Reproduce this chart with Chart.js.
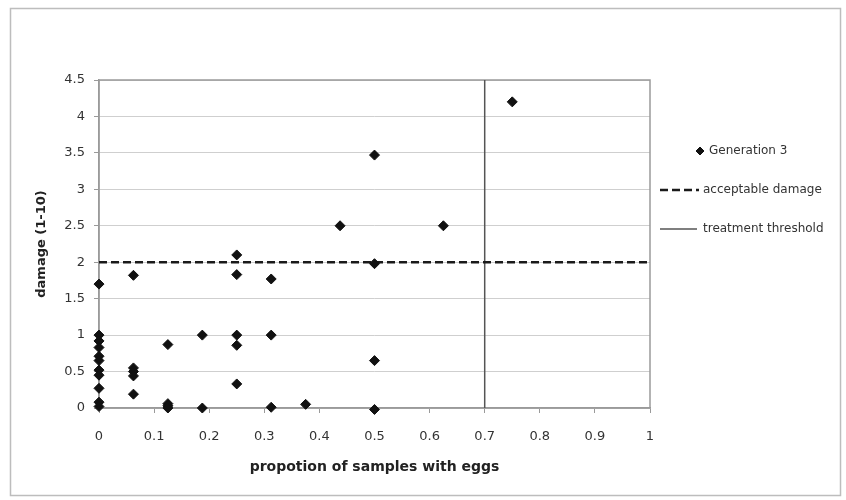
<!DOCTYPE html>
<html>
<head>
<meta charset="utf-8">
<script src="https://cdn.jsdelivr.net/npm/chart.js@4"></script>
<style>
  body { margin: 0; background: #fff; }
  #wrap { width: 846px; height: 500px; }
</style>
</head>
<body>
<div id="wrap"><canvas id="damageChart" width="846" height="500"></canvas></div>
<script>
// proportion of samples with eggs / damage score, generation 3
var genX = [0, 0, 0, 0, 0, 0, 0, 0, 0, 0, 0,
            0.0625, 0.0625, 0.0625, 0.0625, 0.0625,
            0.125, 0.125, 0.125, 0.125,
            0.1875, 0.1875,
            0.25, 0.25, 0.25, 0.25, 0.25,
            0.3125, 0.3125, 0.3125,
            0.375, 0.4375,
            0.5, 0.5, 0.5, 0.5,
            0.625, 0.75];
var genY = [1.0, 0.92, 0.83, 0.71, 0.65, 0.52, 0.45, 0.27, 0.08, 0.02, 1.7,
            1.82, 0.55, 0.5, 0.44, 0.19,
            0.87, 0.06, 0.03, 0.0,
            1.0, 0.0,
            2.1, 1.83, 1.0, 0.86, 0.33,
            1.77, 1.0, 0.01,
            0.05, 2.5,
            3.47, 1.98, 0.65, -0.02,
            2.5, 4.2];

var acceptableDamage = 2;
var treatmentThreshold = 0.7;

var xTicks = [0, 0.1, 0.2, 0.3, 0.4, 0.5, 0.6, 0.7, 0.8, 0.9, 1];
var xTickLabels = ['0', '0.1', '0.2', '0.3', '0.4', '0.5', '0.6', '0.7', '0.8', '0.9', '1'];
var yTicks = [0, 0.5, 1, 1.5, 2, 2.5, 3, 3.5, 4, 4.5];
var yTickLabels = ['0', '0.5', '1', '1.5', '2', '2.5', '3', '3.5', '4', '4.5'];

var legendNames = ['Generation 3', 'acceptable damage', 'treatment threshold'];

var FONT = '"DejaVu Sans", sans-serif';

// outer border + plot frame
var framePlugin = {
    id: 'frame',
    beforeDraw: function(chart) {
        var ctx = chart.ctx;
        ctx.save();
        ctx.fillStyle = '#fff';
        ctx.fillRect(0, 0, chart.width, chart.height);
        ctx.strokeStyle = '#bdbdbd';
        ctx.lineWidth = 1.5;
        ctx.strokeRect(10.5, 8.5, 830, 487);
        ctx.restore();
    },
    beforeDatasetsDraw: function(chart) {
        var a = chart.chartArea, ctx = chart.ctx;
        ctx.save();
        ctx.strokeStyle = '#9a9a9a';
        ctx.lineWidth = 1.5;
        ctx.strokeRect(a.left, a.top, a.right - a.left, a.bottom - a.top);
        ctx.restore();
    }
};

// legend drawn on the right like the original
var legendPlugin = {
    id: 'sideLegend',
    afterDraw: function(chart) {
        var ctx = chart.ctx;
        var ds = chart.data.datasets;
        ctx.save();
        ctx.font = '12px ' + FONT;
        ctx.textBaseline = 'middle';

        // marker
        ctx.fillStyle = ds[0].backgroundColor;
        ctx.strokeStyle = ds[0].borderColor;
        ctx.lineWidth = 1;
        ctx.beginPath();
        ctx.moveTo(696, 151); ctx.lineTo(700, 147); ctx.lineTo(704, 151); ctx.lineTo(700, 155);
        ctx.closePath(); ctx.fill(); ctx.stroke();
        ctx.fillStyle = '#333';
        ctx.fillText(legendNames[0], 709, 151);

        // dashed
        ctx.strokeStyle = ds[1].borderColor;
        ctx.lineWidth = ds[1].borderWidth;
        ctx.setLineDash(ds[1].borderDash);
        ctx.beginPath(); ctx.moveTo(660, 190); ctx.lineTo(699, 190); ctx.stroke();
        ctx.fillText(legendNames[1], 703, 190);

        // solid
        ctx.setLineDash([]);
        ctx.strokeStyle = ds[2].borderColor;
        ctx.lineWidth = ds[2].borderWidth;
        ctx.beginPath(); ctx.moveTo(660, 229); ctx.lineTo(697, 229); ctx.stroke();
        ctx.fillText(legendNames[2], 703, 229);
        ctx.restore();
    }
};

var points = genX.map(function(x, i) { return {x: x, y: genY[i]}; });

var ctx = document.getElementById('damageChart').getContext('2d');
var chart = new Chart(ctx, {
    type: 'scatter',
    data: {
        datasets: [{
            label: legendNames[0],
            data: points,
            pointStyle: 'rectRot',
            pointRadius: 5,
            pointHoverRadius: 5,
            backgroundColor: '#111',
            borderColor: '#111',
            borderWidth: 1,
            clip: false
        }, {
            label: legendNames[1],
            data: [{x: xTicks[0], y: acceptableDamage}, {x: xTicks[xTicks.length - 1], y: acceptableDamage}],
            showLine: true,
            borderColor: '#1a1a1a',
            borderWidth: 2.5,
            borderDash: [8, 4],
            pointRadius: 0
        }, {
            label: legendNames[2],
            data: [{x: treatmentThreshold, y: yTicks[0]}, {x: treatmentThreshold, y: yTicks[yTicks.length - 1]}],
            showLine: true,
            borderColor: '#555',
            borderWidth: 1.5,
            pointRadius: 0
        }]
    },
    options: {
        responsive: false,
        animation: false,
        devicePixelRatio: 1,
        layout: { padding: { left: 0, right: 196, top: 80, bottom: 0 } },
        plugins: {
            legend: { display: false },
            tooltip: { enabled: false }
        },
        scales: {
            x: {
                type: 'linear',
                min: 0,
                max: 1,
                afterBuildTicks: function(s) { s.ticks = xTicks.map(function(v) { return {value: v}; }); },
                afterFit: function(s) { s.height = 92; },
                ticks: {
                    padding: 16,
                    color: '#333',
                    font: { family: FONT, size: 13 },
                    maxRotation: 0,
                    callback: function(v, i) { return xTickLabels[i]; }
                },
                grid: { drawOnChartArea: false, color: '#9a9a9a', tickLength: 5, lineWidth: 1 },
                border: { display: true, color: '#9a9a9a', width: 1.5 },
                title: {
                    display: true,
                    text: 'propotion of samples with eggs',
                    color: '#222',
                    font: { family: FONT, size: 14, weight: 'bold' },
                    padding: { top: 0, bottom: 24 }
                }
            },
            y: {
                type: 'linear',
                min: 0,
                max: 4.5,
                afterBuildTicks: function(s) { s.ticks = yTicks.map(function(v) { return {value: v}; }); },
                afterFit: function(s) { s.width = 99; },
                ticks: {
                    padding: 9,
                    color: '#333',
                    font: { family: FONT, size: 13 },
                    callback: function(v, i) { return yTickLabels[i]; }
                },
                grid: { color: '#cfcfcf', tickColor: '#9a9a9a', tickLength: 5, lineWidth: 1 },
                border: { display: true, color: '#9a9a9a', width: 1.5 },
                title: {
                    display: true,
                    text: 'damage (1-10)',
                    color: '#222',
                    font: { family: FONT, size: 13, weight: 'bold' },
                    padding: { top: 34, bottom: 0 }
                }
            }
        }
    },
    plugins: [framePlugin, legendPlugin]
});
</script>
</body>
</html>
